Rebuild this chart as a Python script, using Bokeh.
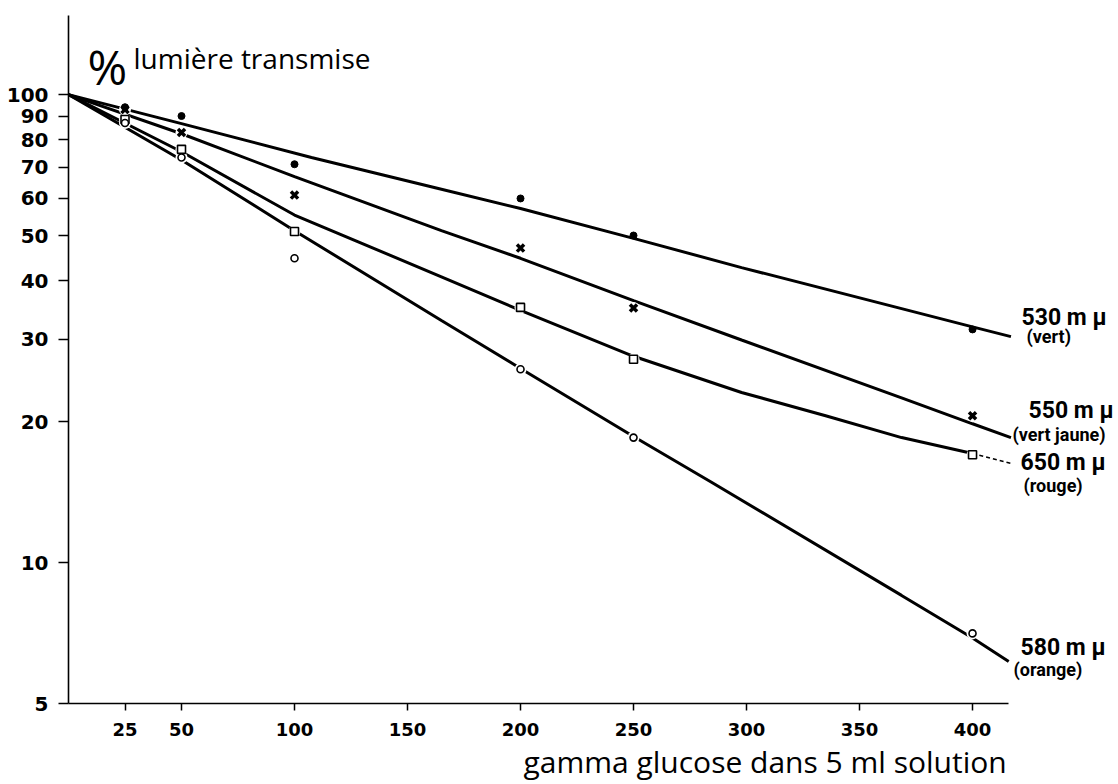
from bokeh.plotting import figure
from bokeh.models import Range1d, FixedTicker, NumeralTickFormatter, Label, Title
from bokeh.embed import file_html
from bokeh.resources import INLINE

# ---- measured points (gamma glucose, % transmitted light) ----
dose = [25, 50, 100, 200, 250, 400]
t530 = [94, 90, 71, 60, 50, 31.5]          # vert (dots)
t550 = [92.9, 83, 61, 47, 35, 20.6]        # vert jaune (crosses)
t650 = [88.5, 76.4, 51, 35.1, 27.2, 17.0]  # rouge (squares)
t580 = [87, 73.4, 44.7, 25.9, 18.5, 7.06]  # orange (circles)

# ---- drawn curves ----
fit530_x = [0, 50, 107.5, 165, 200, 250, 297.8, 368.6, 400, 417]
fit530_y = [100, 86.7, 73.4, 62.8, 57.1, 49.3, 42.7, 34.9, 31.9, 30.4]
fit550_x = [0, 50, 100, 165, 200, 250, 297.8, 368.6, 400, 417]
fit550_y = [100, 82.5, 66.8, 51.2, 44.7, 36.3, 29.9, 22.5, 19.8, 18.5]
fit650_x = [0, 50, 100, 165, 200, 250, 297.8, 335, 368.6, 400]
fit650_y = [100, 75.5, 55.3, 40.8, 34.6, 27.6, 23.1, 20.6, 18.5, 17.1]
tail650_x = [400, 417]
tail650_y = [17.1, 16.3]
fit580_x = [0, 50, 100, 165, 200, 250, 284.5, 368.6, 400, 416]
fit580_y = [100, 72.5, 51.2, 32.9, 26.0, 18.6, 14.85, 8.51, 6.9, 6.15]

x_ticks = [25, 50, 100, 150, 200, 250, 300, 350, 400]
y_ticks = [5, 10, 20, 30, 40, 50, 60, 70, 80, 90, 100]

y_title = "lumière transmise"
x_title = "gamma glucose dans 5 ml solution"
labels = [("530 m μ", "(vert)"), ("550 m μ", "(vert jaune)"),
          ("650 m μ", "(rouge)"), ("580 m μ", "(orange)")]

p = figure(width=1116, height=782,
           x_range=Range1d(0, 463.7), y_range=Range1d(5, 147.6),
           y_axis_type="log", output_backend="svg", toolbar_location=None,
           min_border_left=68, min_border_right=0, min_border_top=15,
           min_border_bottom=79)
p.outline_line_color = None
p.xgrid.grid_line_color = None
p.ygrid.grid_line_color = None
p.background_fill_color = "white"

for ax in (p.xaxis, p.yaxis):
    ax.axis_line_color = "black"
    ax.axis_line_width = 1.6
    ax.major_tick_line_color = "black"
    ax.major_tick_line_width = 1.5
    ax.major_tick_in = 0
    ax.minor_tick_line_color = None
    ax.major_label_text_color = "black"
    ax.major_label_text_font = "DejaVu Sans"
    ax.major_label_text_font_style = "bold"

p.xaxis.ticker = FixedTicker(ticks=x_ticks)
p.xaxis.bounds = (0, 416)
p.xaxis.major_tick_out = 7
p.xaxis.major_label_standoff = 12
p.xaxis.major_label_text_font_size = "18px"

p.yaxis.ticker = FixedTicker(ticks=y_ticks)
p.yaxis.formatter = NumeralTickFormatter(format="0")
p.yaxis.major_tick_out = 10
p.yaxis.major_label_standoff = 10
p.yaxis.major_label_text_font_size = "20px"

p.add_layout(Title(text=x_title, align="left", offset=455, standoff=0,
                   text_font="Open Sans", text_font_size="30px",
                   text_font_style="normal", text_color="black"), "below")

lw = 3
p.line(fit530_x, fit530_y, line_color="black", line_width=lw)
p.line(fit550_x, fit550_y, line_color="black", line_width=lw)
p.line(fit650_x, fit650_y, line_color="black", line_width=lw)
p.line(tail650_x, tail650_y, line_color="black", line_width=1.6, line_dash="4 3")
p.line(fit580_x, fit580_y, line_color="black", line_width=lw)

# white halos so the curves break around the markers
for ys in (t550, t650, t580):
    p.scatter(dose, ys, marker="circle", size=12, fill_color="white", line_color=None)

p.scatter(dose, t530, marker="circle", size=7, fill_color="black", line_color="black")
p.scatter(dose, t550, marker="x", size=10, line_color="black", line_width=3.5)
p.scatter(dose, t650, marker="square", size=8, fill_color="white", line_color="black", line_width=1.6)
p.scatter(dose, t580, marker="circle", size=7, fill_color="white", line_color="black", line_width=1.6)

def lab(text, sx, sy, size, font="Open Sans", style="normal", align="left"):
    p.add_layout(Label(x=sx, y=sy, x_units="screen", y_units="screen", text=text,
                       text_font=font, text_font_size=size, text_font_style=style,
                       text_color="black", text_align=align, text_baseline="alphabetic"))

# y title at top-left
lab("%", 19, 637, "48px")
lab(y_title, 65, 646, "28px")

# series labels at the right
pos = [((953, 386), (958, 367)), ((960, 293), (944, 269)),
       ((952, 241), (955, 218)), ((952, 56), (945, 34))]
for (main, sub), ((mx, my), (sx, sy)) in zip(labels, pos):
    lab(main, mx, my, "23px", font="Roboto", style="bold")
    lab(sub, sx, sy, "18px", font="Roboto", style="bold")

open("out.html", "w").write(file_html(p, INLINE))
